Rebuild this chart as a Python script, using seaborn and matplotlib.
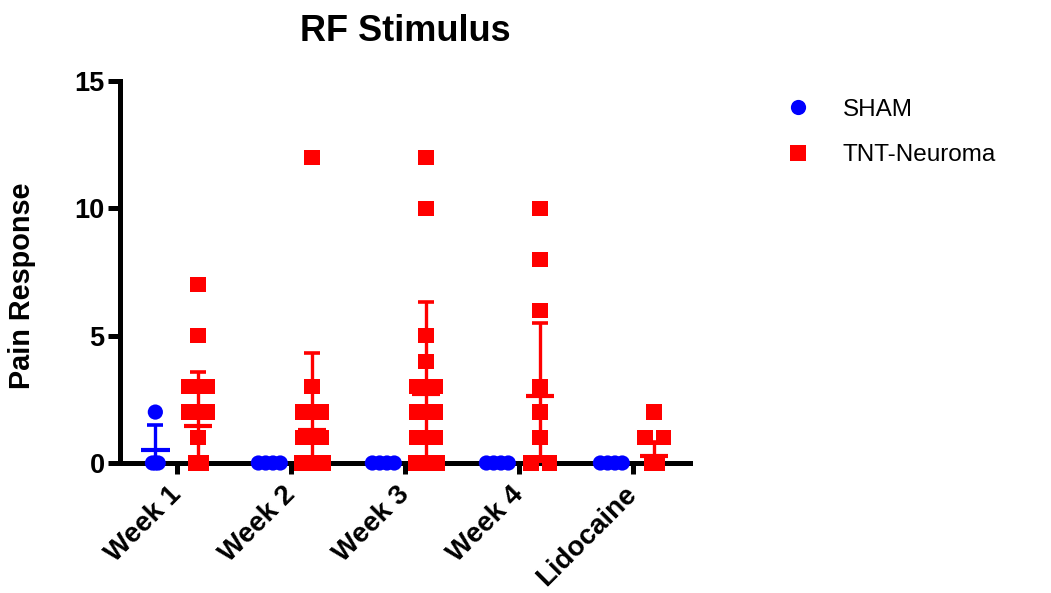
import numpy as np
import pandas as pd
import matplotlib
matplotlib.use("Agg")
import matplotlib.pyplot as plt
import seaborn as sns

# ---------------- data ----------------
categories = ["Week 1", "Week 2", "Week 3", "Week 4", "Lidocaine"]
groups = ["SHAM", "TNT-Neuroma"]

# visible individual points per category
sham_points = [
    [2, 0, 0, 0],
    [0, 0, 0, 0],
    [0, 0, 0, 0],
    [0, 0, 0, 0],
    [0, 0, 0, 0],
]
tnt_points = [
    [7, 5, 3, 3, 2, 2, 1, 0, 0, 0],
    [12, 3, 2, 2, 1, 1, 0, 0, 0, 0],
    [12, 10, 5, 4, 3, 3, 2, 2, 1, 1, 0, 0, 0, 0],
    [10, 8, 6, 3, 2, 1, 0, 0],
    [2, 1, 1, 0, 0, 0],
]

# group means and standard deviations
sham_mean = [0.5, 0, 0, 0, 0]
sham_sd = [1.0, 0, 0, 0, 0]
tnt_mean = [1.44, 1.31, 2.69, 2.63, 0.26]
tnt_sd = [2.13, 3.00, 3.63, 2.86, 0.58]

y_ticks = [0, 5, 10, 15]
title = "RF Stimulus"
y_label = "Pain Response"

# ---------------- style ----------------
sns.set_theme(style="ticks")
plt.rcParams["font.family"] = ["Liberation Sans", "DejaVu Sans"]
plt.rcParams["text.color"] = "black"
plt.rcParams["axes.labelcolor"] = "black"
plt.rcParams["xtick.color"] = "black"
plt.rcParams["ytick.color"] = "black"

BLUE = "#0000FF"
RED = "#FF0000"
palette = {"SHAM": BLUE, "TNT-Neuroma": RED}
markers = {"SHAM": "o", "TNT-Neuroma": "s"}
group_shift = {"SHAM": -0.19, "TNT-Neuroma": 0.185}


def spread(values):
    """Horizontal spread of duplicate values (Prism-like scatter)."""
    values = list(values)
    offs = np.zeros(len(values))
    for v in set(values):
        idx = [i for i, x in enumerate(values) if x == v]
        k = len(idx)
        if k == 1:
            o = [0.0]
        elif k == 2:
            o = [-0.08, 0.08]
        elif k == 3:
            o = [-0.025, 0.0, 0.025]
        else:
            o = np.linspace(-0.096, 0.096, k)
        for j, i in enumerate(idx):
            offs[i] = o[j]
    return offs


rows = []
for g, pts in zip(groups, [sham_points, tnt_points]):
    for ci, vals in enumerate(pts):
        offs = spread(vals)
        for v, o in zip(vals, offs):
            rows.append({"group": g, "x": ci + group_shift[g] + o, "value": v})
df = pd.DataFrame(rows)

fig = plt.figure(figsize=(10.51, 5.93), dpi=100)
ax = fig.add_axes([120 / 1051, 1 - 463 / 593, 570 / 1051, 382 / 593])

sns.scatterplot(data=df, x="x", y="value", hue="group", style="group",
                palette=palette, markers=markers, s=120, linewidth=0,
                ax=ax, zorder=3, legend=True)
for coll in ax.collections:
    coll.set_clip_on(False)

# mean lines and SD bars
for g, means, sds in [("SHAM", sham_mean, sham_sd), ("TNT-Neuroma", tnt_mean, tnt_sd)]:
    xs = np.arange(len(categories)) + group_shift[g]
    ax.errorbar(xs, means, yerr=sds, fmt="none", ecolor=palette[g],
                elinewidth=2.4, capsize=6.0, capthick=2.6, zorder=4)
    ax.errorbar(xs, means, xerr=0.125, fmt="none", ecolor=palette[g],
                elinewidth=3.0, capsize=0, zorder=4)

ax.set_xlim(-0.5, len(categories) - 0.5)
ax.set_ylim(0, 15)
ax.set_yticks(y_ticks)
ax.set_xticks(np.arange(len(categories)))
ax.set_xticklabels(categories, rotation=45, ha="right", va="center",
                   rotation_mode="anchor", fontsize=20, fontweight="bold",
                   color="black")
ax.set_yticklabels([str(t) for t in y_ticks], fontsize=19.5, fontweight="bold",
                   color="black")
ax.set_xlabel("")
ax.set_ylabel(y_label, fontsize=20.8, fontweight="bold", color="black")
ax.yaxis.set_label_coords(-(120 - 36) / 570, (463 - 286) / 382)
ax.set_title(title, fontsize=26, fontweight="bold", pad=29, color="black")

sns.despine(ax=ax)
for side in ["left", "bottom"]:
    ax.spines[side].set_linewidth(3.6)
    ax.spines[side].set_color("black")
ax.tick_params(axis="y", length=9, width=3.6, pad=2, color="black")
ax.tick_params(axis="x", length=8, width=3.6, pad=12, color="black")
ax.grid(False)

handles, labels = ax.get_legend_handles_labels()
leg = ax.legend(handles, labels, loc="upper left",
                bbox_to_anchor=(752 / 1051, 1 - 77 / 593),
                bbox_transform=fig.transFigure, frameon=False, fontsize=17.5,
                handletextpad=0.83, labelspacing=0.96, markerscale=1.0)
for t in leg.get_texts():
    t.set_color("black")

fig.savefig("out.png", dpi=100)
